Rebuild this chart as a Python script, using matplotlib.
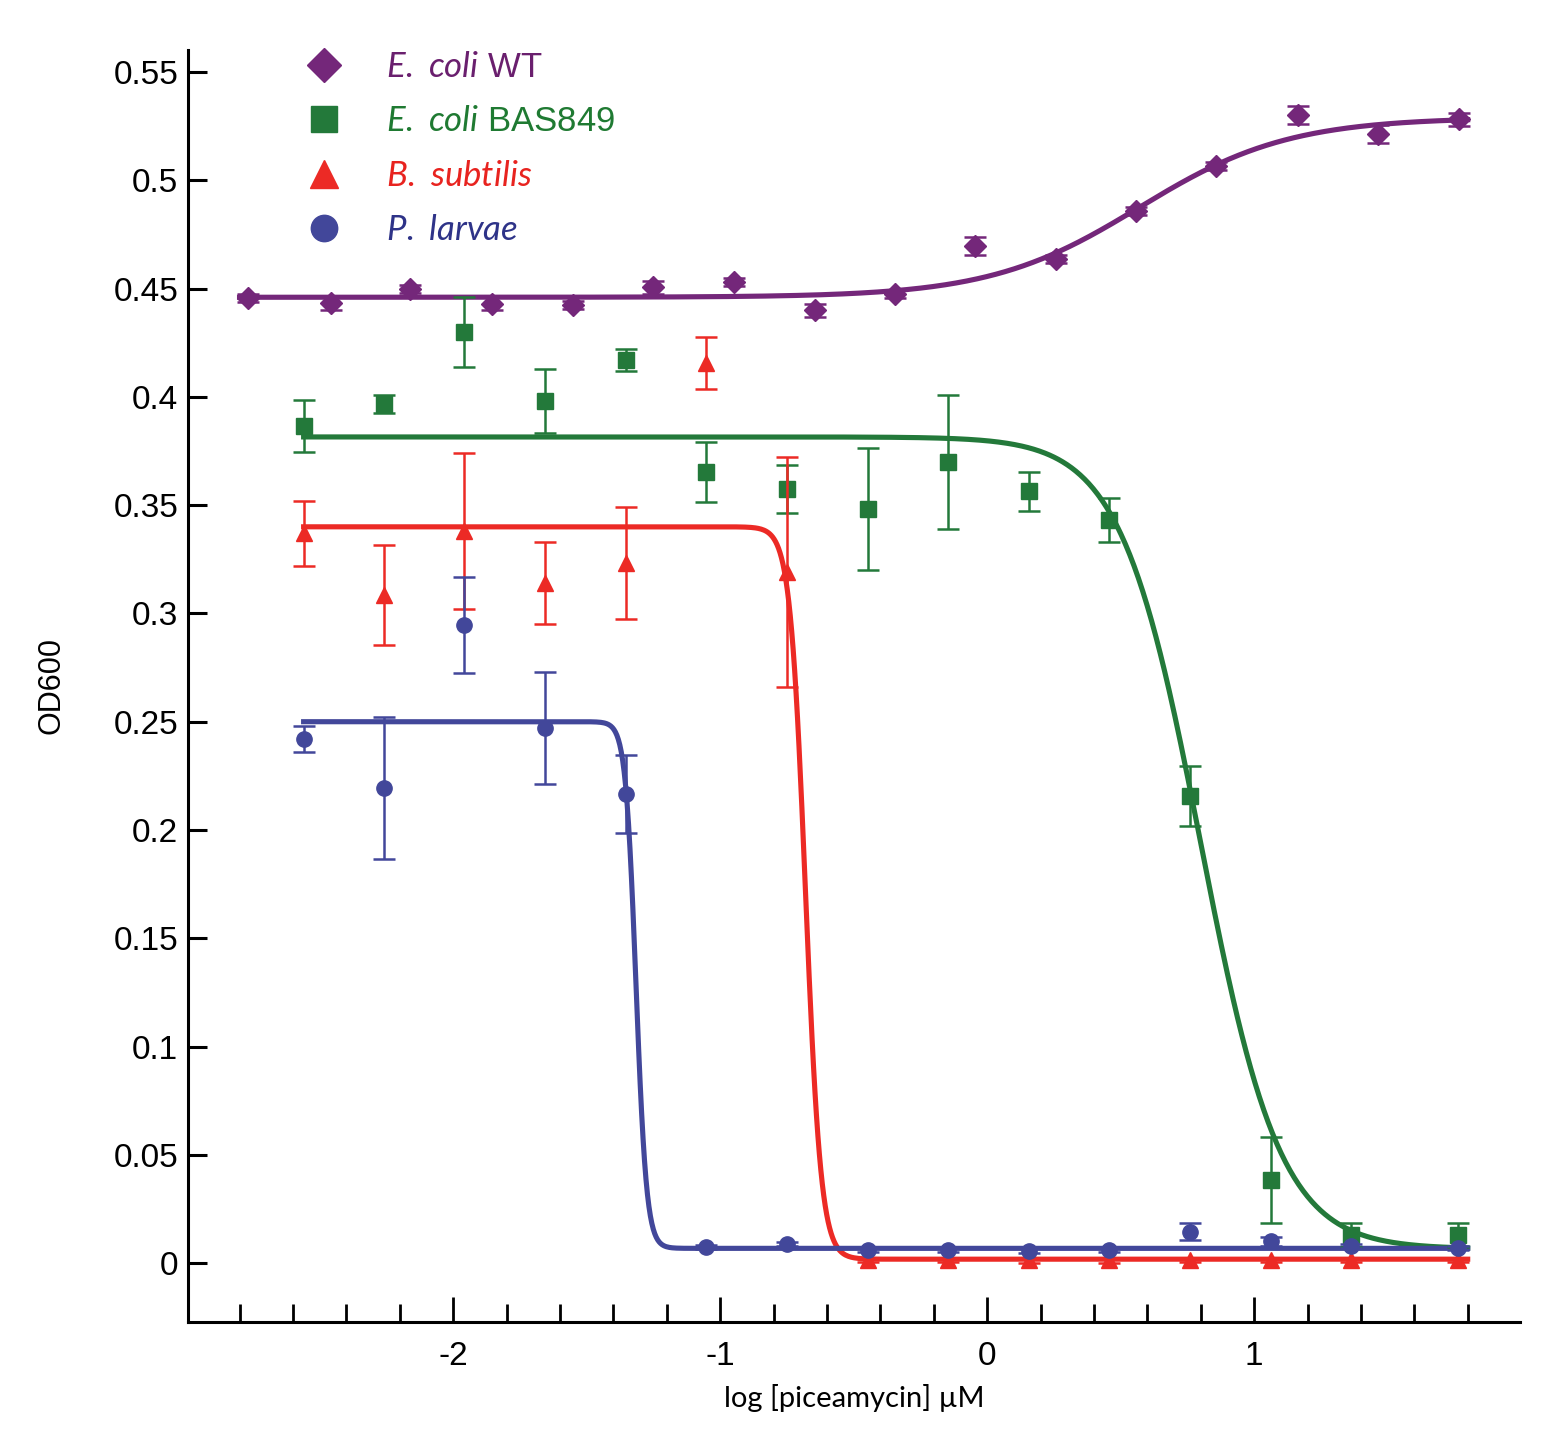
import numpy as np
import matplotlib
matplotlib.use("Agg")
import matplotlib.pyplot as plt
from matplotlib.lines import Line2D

# ---------------- data ----------------
x_wt = [-2.768, -2.457, -2.161, -1.854, -1.551, -1.251, -0.948, -0.644,
        -0.345, -0.045, 0.258, 0.558, 0.858, 1.165, 1.464, 1.768]
y_wt = [0.4457, 0.4433, 0.4498, 0.4429, 0.4424, 0.4507, 0.4530, 0.4401,
        0.4475, 0.4697, 0.4636, 0.4858, 0.5066, 0.5301, 0.5214, 0.5283]
e_wt = [0.002, 0.003, 0.002, 0.003, 0.002, 0.003, 0.002, 0.003,
        0.002, 0.004, 0.002, 0.002, 0.002, 0.004, 0.004, 0.003]

x_other = [-2.558, -2.258, -1.959, -1.655, -1.352, -1.052, -0.749, -0.446,
           -0.146, 0.157, 0.457, 0.760, 1.064, 1.363, 1.764]

y_bas = [0.3865, 0.3967, 0.4299, 0.3981, 0.4170, 0.3653, 0.3574, 0.3482,
         0.3699, 0.3565, 0.3431, 0.2157, 0.0383, 0.0130, 0.0130]
e_bas = [0.012, 0.004, 0.016, 0.015, 0.005, 0.014, 0.011, 0.028,
         0.031, 0.009, 0.010, 0.014, 0.020, 0.0055, 0.0055]

y_bs = [0.3371, 0.3085, 0.3380, 0.3140, 0.3233, 0.4156, 0.3191, 0.0014,
        0.0014, 0.0012, 0.0012, 0.0014, 0.0014, 0.0014, 0.0014]
e_bs = [0.015, 0.023, 0.036, 0.019, 0.026, 0.012, 0.053, 0.001,
        0.001, 0.001, 0.001, 0.001, 0.001, 0.001, 0.001]

y_pl = [0.2420, 0.2194, 0.2946, 0.2471, 0.2166, 0.0074, 0.0088, 0.0060,
        0.0062, 0.0058, 0.0062, 0.0145, 0.0100, 0.0080, 0.0070]
e_pl = [0.006, 0.033, 0.022, 0.026, 0.018, 0.001, 0.001, 0.001,
        0.001, 0.001, 0.001, 0.004, 0.002, 0.001, 0.001]

# fitted dose-response parameters: bottom, top, logEC50, hill slope
fit_wt = [0.446, 0.529, 0.57, 1.55]
fit_bas = [0.0065, 0.3815, 0.80, -2.9]
fit_bs = [0.0018, 0.3400, -0.68, -15.0]
fit_pl = [0.0068, 0.2500, -1.315, -22.0]

labels = [r"$\mathit{E.}$ $\mathit{coli}$ WT", r"$\mathit{E.}$ $\mathit{coli}$ BAS849",
          r"$\mathit{B.}$ $\mathit{subtilis}$", r"$\mathit{P.}$ $\mathit{larvae}$"]
colors = ["#74277A", "#23793A", "#EC2A25", "#42479A"]
text_colors = ["#6A1F6E", "#1F7A32", "#E8231F", "#2E3388"]
markers = ["D", "s", "^", "o"]

# ---------------- style ----------------
plt.rcParams["font.family"] = ["Liberation Sans", "DejaVu Sans"]
plt.rcParams["mathtext.fontset"] = "custom"
plt.rcParams["mathtext.it"] = "Lato:italic"
plt.rcParams["mathtext.rm"] = "Lato"

fig = plt.figure(figsize=(15.59, 14.44), dpi=100)
ax = fig.add_axes([0.1206, 0.0845, 0.8544, 0.8809])


def hill(x, p):
    b, t, c, h = p
    return b + (t - b) / (1.0 + 10 ** ((c - x) * h))


series = [
    (x_wt, y_wt, e_wt, fit_wt, (-2.80, 1.80), 11),
    (x_other, y_bas, e_bas, fit_bas, (-2.56, 1.80), 11),
    (x_other, y_bs, e_bs, fit_bs, (-2.56, 1.80), 12),
    (x_other, y_pl, e_pl, fit_pl, (-2.56, 1.80), 11),
]

for i, (xs, ys, es, fp, xr, ms) in enumerate(series):
    xc = np.linspace(xr[0], xr[1], 800)
    ax.plot(xc, hill(xc, fp), color=colors[i], lw=3.7, zorder=3 + i * 0.1)
    ax.errorbar(xs, ys, yerr=es, fmt=markers[i], color=colors[i], ms=ms,
                ecolor=colors[i], elinewidth=1.8, capsize=8, capthick=1.8,
                zorder=4 + i * 0.1)

ax.set_xlim(-2.993, 1.996)
ax.set_ylim(-0.0272, 0.5602)

ax.set_xticks([-2, -1, 0, 1])
ax.set_xticklabels(["-2", "-1", "0", "1"])
ax.set_xticks(np.arange(-2.8, 1.81, 0.2), minor=True)
ax.set_yticks([0, 0.05, 0.1, 0.15, 0.2, 0.25, 0.3, 0.35, 0.4, 0.45, 0.5, 0.55])
ax.set_yticklabels(["0", "0.05", "0.1", "0.15", "0.2", "0.25", "0.3", "0.35",
                    "0.4", "0.45", "0.5", "0.55"])

ax.tick_params(axis="x", which="major", direction="in", length=18, width=2,
               labelsize=24, pad=14)
ax.tick_params(axis="x", which="minor", direction="in", length=13, width=2)
ax.tick_params(axis="y", which="major", direction="in", length=14, width=2.2,
               labelsize=24, pad=7)

for s in ["top", "right"]:
    ax.spines[s].set_visible(False)
for s in ["left", "bottom"]:
    ax.spines[s].set_linewidth(2.2)

ax.set_ylabel("OD600", fontsize=22, labelpad=34)
ax.set_xlabel("log [piceamycin] µM", fontsize=21, family=["Lato", "DejaVu Sans"],
              labelpad=8)

handles = [Line2D([], [], ls="none", marker=markers[i], color=colors[i],
                  ms=[17, 19, 20, 19][i]) for i in range(4)]
leg = ax.legend(handles, labels, loc="upper left", bbox_to_anchor=(0.071, 1.013),
                frameon=False, fontsize=25, handletextpad=1.08,
                labelspacing=0.62, borderpad=0, handlelength=1.4)
for t, c in zip(leg.get_texts(), text_colors):
    t.set_color(c)

fig.savefig("out.png", dpi=100)
